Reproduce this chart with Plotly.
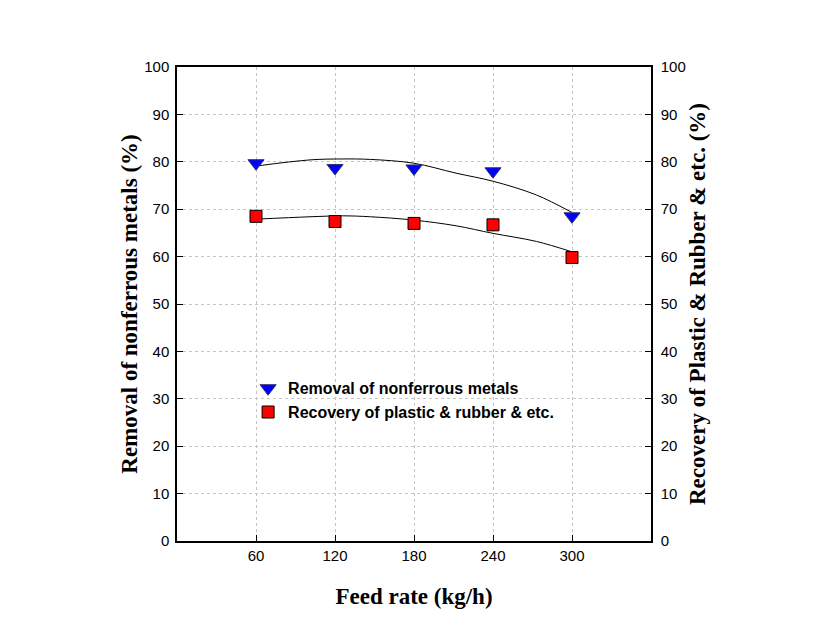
import plotly.graph_objects as go

feed_rate = [60, 120, 180, 240, 300]
removal_nonferrous = [79.7, 78.7, 78.6, 78.0, 68.5]
recovery_plastic = [68.5, 67.4, 67.0, 66.7, 59.8]

curve_x = [60, 101, 126, 147, 180, 212, 240, 273, 300]
removal_curve = [79.1, 80.4, 80.6, 80.5, 79.7, 77.6, 75.9, 73.0, 69.3]
recovery_curve = [67.9, 68.4, 68.6, 68.4, 67.7, 66.5, 64.9, 63.2, 61.0]

x_ticks = [60, 120, 180, 240, 300]
y_ticks = list(range(0, 101, 10))

fig = go.Figure()
fig.add_trace(go.Scatter(x=curve_x, y=removal_curve, mode="lines", line=dict(color="black", width=1, shape="spline"), showlegend=False, hoverinfo="skip"))
fig.add_trace(go.Scatter(x=curve_x, y=recovery_curve, mode="lines", line=dict(color="black", width=1, shape="spline"), showlegend=False, hoverinfo="skip"))
fig.add_trace(go.Scatter(x=feed_rate, y=removal_nonferrous, mode="markers", name="Removal of nonferrous metals",
                         marker=dict(symbol="triangle-down", size=14, color="#0000ff", line=dict(color="#333366", width=1))))
fig.add_trace(go.Scatter(x=feed_rate, y=recovery_plastic, mode="markers", name="Recovery of plastic &amp; rubber &amp; etc.",
                         marker=dict(symbol="square", size=12, color="#ff0000", line=dict(color="black", width=1))))
fig.add_trace(go.Scatter(x=feed_rate, y=recovery_plastic, yaxis="y2", mode="markers", marker=dict(opacity=0), showlegend=False, hoverinfo="skip"))

tick_font = dict(family="Liberation Sans, Arial", size=15, color="black")
title_font = dict(family="Liberation Serif, Times New Roman", size=23, color="black", weight="bold")
grid_color = "#c4c4c4"

fig.update_layout(
    width=816, height=636,
    paper_bgcolor="white", plot_bgcolor="white",
    margin=dict(l=169, r=173, t=59, b=103),
    xaxis=dict(range=[0, 360], tickvals=x_ticks, ticks="inside", ticklen=6, tickcolor="black",
               showline=True, linecolor="black", linewidth=1.5, mirror=True,
               showgrid=True, gridcolor=grid_color, griddash="dot", gridwidth=1, zeroline=False,
               tickfont=tick_font,
               title=dict(text="Feed rate (kg/h)", font=title_font, standoff=25)),
    yaxis=dict(range=[0, 100], tickvals=y_ticks, ticks="inside", ticklen=6, tickcolor="black",
               showline=True, linecolor="black", linewidth=1.5, ticklabelstandoff=3,
               showgrid=True, gridcolor=grid_color, griddash="dot", gridwidth=1, zeroline=False,
               tickfont=tick_font,
               title=dict(text="Removal of nonferrous metals (%)", font=title_font, standoff=0)),
    yaxis2=dict(range=[0, 100], tickvals=y_ticks, ticks="inside", ticklen=6, tickcolor="black",
                overlaying="y", side="right", showline=True, linecolor="black", linewidth=1.5,
                ticklabelstandoff=5,
                showgrid=False, zeroline=False, tickfont=tick_font,
                title=dict(text="Recovery of Plastic &amp; Rubber &amp; etc. (%)", font=title_font, standoff=4)),
    legend=dict(x=0.15, y=0.358, xanchor="left", yanchor="top", bgcolor="rgba(0,0,0,0)",
                font=dict(family="Liberation Sans, Arial", size=16, color="black", weight="bold"),
                tracegroupgap=0, itemsizing="trace"),
    showlegend=True,
)

fig.write_html("out.html")
